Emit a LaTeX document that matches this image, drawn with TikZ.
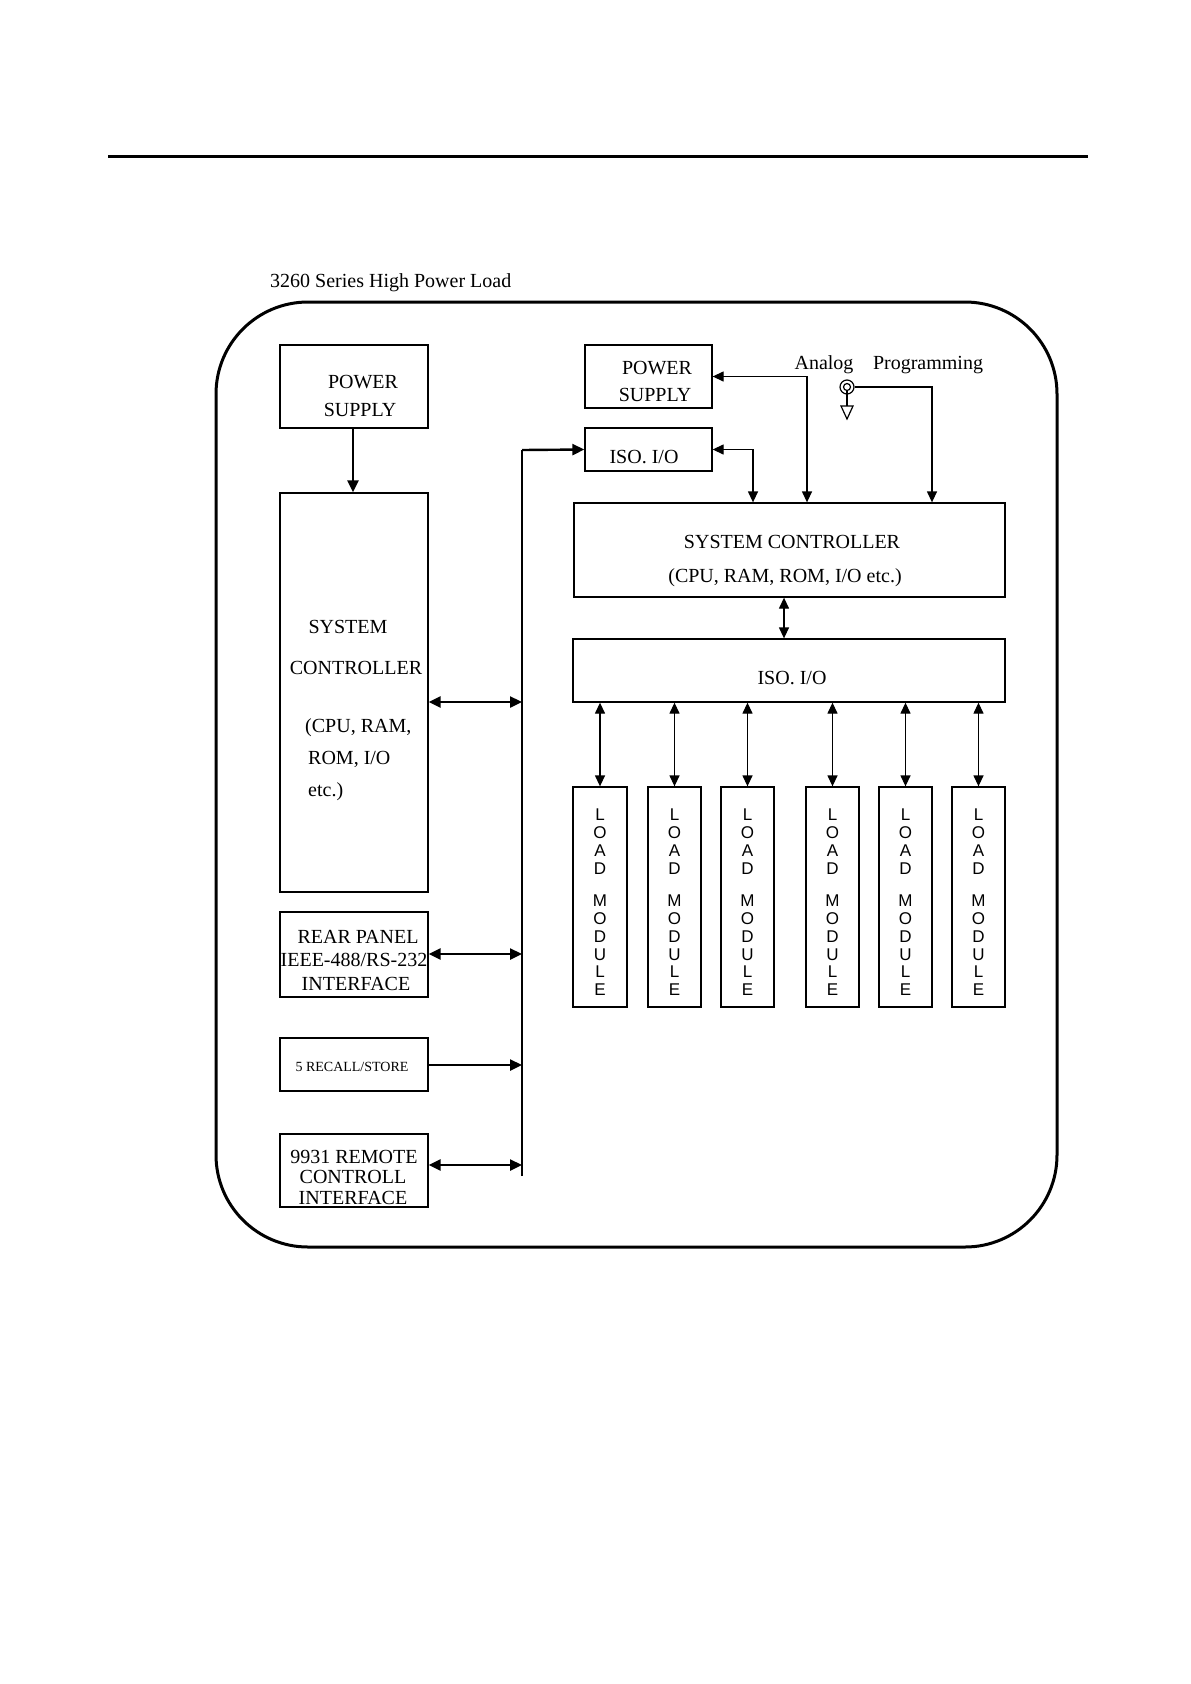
\documentclass[tikz,border=0pt]{standalone}
\usepackage{fontspec}
\setmainfont{Liberation Serif}
\newfontfamily\lmfont{Liberation Sans}
\usetikzlibrary{arrows.meta}
\begin{document}
\begin{tikzpicture}[x=1pt,y=-1pt,
  blk/.style={draw,line width=1.3pt,inner sep=0pt},
  txt/.style={anchor=base,inner sep=0pt,font=\fontsize{20}{24}\selectfont},
  txtw/.style={anchor=base west,inner sep=0pt,font=\fontsize{20}{24}\selectfont},
  smalltxt/.style={anchor=base,inner sep=0pt,font=\fontsize{14}{16}\selectfont},
  lmt/.style={anchor=base,inner sep=0pt,font=\lmfont\fontsize{17}{20}\selectfont},
  thk/.style={line width=2.4pt},
  thkboth/.style={line width=2.4pt,{Triangle[length=12pt,width=11pt]}-{Triangle[length=12pt,width=11pt]}},
  thkend/.style={line width=2.4pt,-{Triangle[length=12pt,width=11pt]}},
  tarr/.style={line width=1.3pt,{Triangle[length=11pt,width=10pt]}-{Triangle[length=11pt,width=10pt]}},
  tend/.style={line width=1.3pt,-{Triangle[length=11pt,width=10pt]}}
]
\useasboundingbox (0,0) rectangle (1191,1684);
\fill[white] (0,0) rectangle (1191,1684);

% top rule
\draw[line width=3pt] (108,156) -- (1088,156);

% title
\node[txtw] (title) at (270,287) {3260 Series High Power Load};

% outer rounded frame
\draw[line width=3pt,rounded corners=92pt] (216,302) rectangle (1057,1247);

% left column blocks
\node[blk,minimum width=148pt,minimum height=83pt] (ps1) at (354,386.5) {};
\node[blk,minimum width=148pt,minimum height=399pt] (sc1) at (354,692.5) {};
\node[blk,minimum width=148pt,minimum height=85pt] (rp) at (354,954.5) {};
\node[blk,minimum width=148pt,minimum height=53pt] (rs) at (354,1064.5) {};
\node[blk,minimum width=148pt,minimum height=73pt] (rc) at (354,1170.5) {};

% right column blocks
\node[blk,minimum width=127pt,minimum height=63pt] (ps2) at (648.5,376.5) {};
\node[blk,minimum width=127pt,minimum height=43pt] (iso1) at (648.5,449.5) {};
\node[blk,minimum width=431pt,minimum height=94pt] (sc2) at (789.5,550) {};
\node[blk,minimum width=432pt,minimum height=63pt] (iso2) at (789,670.5) {};

% texts in left blocks
\node[txt] (t1) at (363,388) {POWER};
\node[txt] (t2) at (360,416) {SUPPLY};
\node[txt] (t3) at (348,633) {SYSTEM};
\node[txt] (t4) at (356,674) {CONTROLLER};
\node[txtw] (t5) at (305,732) {(CPU, RAM,};
\node[txtw] (t6) at (308,764) {ROM, I/O};
\node[txtw] (t7) at (308,796) {etc.)};
\node[txt] (t8) at (358,943) {REAR PANEL};
\node[txt] (t9) at (354,966) {IEEE-488/RS-232};
\node[txt] (t10) at (356,990) {INTERFACE};
\node[smalltxt] (t11) at (352,1071) {5 RECALL/STORE};
\node[txt] (t12) at (354,1163) {9931 REMOTE};
\node[txt] (t13) at (353,1183) {CONTROLL};
\node[txt] (t14) at (353,1204) {INTERFACE};

% texts in right blocks
\node[txt] (t15) at (657,374) {POWER};
\node[txt] (t16) at (655,401) {SUPPLY};
\node[txt] (t17) at (644,463) {ISO. I/O};
\node[txt] (t18) at (824,369) {Analog};
\node[txt] (t19) at (928,369) {Programming};
\node[txt] (t20) at (792,548) {SYSTEM CONTROLLER};
\node[txt] (t21) at (785,582) {(CPU, RAM, ROM, I/O etc.)};
\node[txt] (t22) at (792,684) {ISO. I/O};

% bus
\coordinate (bustop) at (522,450);
\coordinate (busbot) at (522,1176);
\coordinate (b1) at (522,702);
\coordinate (b2) at (522,954);
\coordinate (b3) at (522,1065);
\coordinate (b4) at (522,1165);
\draw[thk] (busbot) -- (bustop);
\draw[thkend] (bustop) -- (iso1.west);

% left connectors
\draw[thkend] ([xshift=-1pt]ps1.south) -- ([xshift=-1pt]sc1.north);
\draw[thkboth] (sc1.east |- b1) -- (b1);
\draw[thkboth] (rp.east |- b2) -- (b2);
\draw[thkend] (rs.east |- b3) -- (b3);
\draw[thkboth] (rc.east |- b4) -- (b4);

% right connectors
\draw[tarr] (ps2.east) -| (807,0 |- sc2.north);
\draw[tarr] (iso1.east) -| (753,0 |- sc2.north);

% analog programming connector
\node[circle,draw,line width=1.2pt,minimum size=14pt,inner sep=0pt] (apc) at (847,387) {};
\node[circle,draw,line width=1.2pt,minimum size=7pt,inner sep=0pt] (api) at (847,387) {};
\coordinate (gnd) at (847,406);
\draw[line width=1.2pt] (api.south) -- (gnd);
\draw[line width=1.2pt] (841,406) -- (853,406) -- (847,419) -- cycle;
\draw[tend] (apc.east) -| (932,0 |- sc2.north);

% controller to iso
\draw[tarr] (784,0 |- sc2.south) -- (784,0 |- iso2.north);

% load modules
\foreach \i/\cx/\w in {1/600/54,2/674.5/53,3/747.5/53,4/832.5/53,5/905.5/53,6/978.5/53}{
  \node[blk,minimum width=\w pt,minimum height=220pt] (lm\i) at (\cx,897) {};
  \draw[tarr] (lm\i.north |- iso2.south) -- (lm\i.north);
  \foreach \ch/\yy in {L/820,O/838,A/856,D/874,M/906,O/924,D/942,U/960,L/977,E/995}
    \node[lmt] at (\cx,\yy) {\ch};
}
\end{tikzpicture}
\end{document}
